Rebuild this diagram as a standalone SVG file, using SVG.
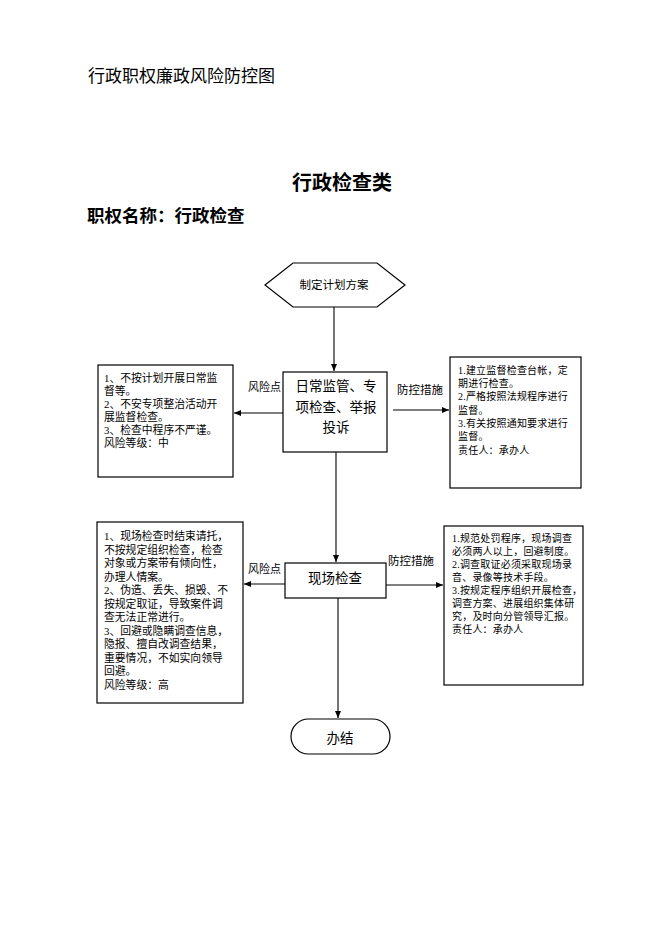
<svg xmlns="http://www.w3.org/2000/svg" width="662" height="936" viewBox="0 0 662 936">
<defs>
<marker id="ah" markerWidth="8" markerHeight="8" refX="7" refY="4" orient="auto" markerUnits="userSpaceOnUse">
<path d="M0,1 L7,4 L0,7 Z" fill="#000"/>
</marker>
<style>
text{font-family:"Liberation Serif","Noto Sans CJK SC",serif;fill:#000;dominant-baseline:central}
.box{fill:#fff;stroke:#000;stroke-width:1.2}
.ln{stroke:#000;stroke-width:1.1;fill:none}
.s11{font-size:10.8px}
.s10{font-size:10px;letter-spacing:0.2px}
.lbl{font-size:11px}
.ctr{text-anchor:middle}
</style>
</defs>
<rect width="662" height="936" fill="#fff"/>
<text x="88" y="76" style="font-size:17px">行政职权廉政风险防控图</text>
<text x="342" y="183" class="ctr" style="font-size:20px;font-weight:bold">行政检查类</text>
<text x="87" y="216" style="font-size:17.5px;font-weight:bold">职权名称：行政检查</text>

<g id="connectors">
<line class="ln" x1="334" y1="307" x2="334" y2="371" marker-end="url(#ah)"/>
<line class="ln" x1="283" y1="413" x2="234" y2="413" marker-end="url(#ah)"/>
<line class="ln" x1="393" y1="410" x2="449" y2="410" marker-end="url(#ah)"/>
<line class="ln" x1="336" y1="452" x2="336" y2="562" marker-end="url(#ah)"/>
<line class="ln" x1="285" y1="584" x2="244" y2="584" marker-end="url(#ah)"/>
<line class="ln" x1="386" y1="585" x2="443" y2="585" marker-end="url(#ah)"/>
<line class="ln" x1="338" y1="598" x2="338" y2="718" marker-end="url(#ah)"/>
<text x="248" y="387" class="lbl">风险点</text>
<text x="397" y="390" style="font-size:11.5px">防控措施</text>
<text x="248" y="569" class="lbl">风险点</text>
<text x="388" y="561" style="font-size:11.5px">防控措施</text>
</g>

<g id="start">
<polygon class="box" points="265,285 293,263 377,263 405,285 377,307 293,307"/>
<text x="334" y="285" class="ctr" style="font-size:11.5px">制定计划方案</text>
</g>

<g id="daily">
<rect class="box" x="283" y="372" width="104" height="80"/>
<text x="336" y="386" class="ctr" style="font-size:13.5px">日常监管、专</text>
<text x="336" y="407" class="ctr" style="font-size:13.5px">项检查、举报</text>
<text x="336" y="427" class="ctr" style="font-size:13.5px">投诉</text>
</g>

<g id="risk1">
<rect class="box" x="98" y="365" width="135" height="112"/>
<text x="104" y="378" class="s11">1、不按计划开展日常监</text>
<text x="104" y="391" class="s11">督等。</text>
<text x="104" y="404" class="s11">2、不安专项整治活动开</text>
<text x="104" y="417" class="s11">展监督检查。</text>
<text x="104" y="430" class="s11">3、检查中程序不严谨。</text>
<text x="104" y="443" class="s11">风险等级：中</text>
</g>

<g id="ctrl1">
<rect class="box" x="450" y="357" width="131" height="131"/>
<text x="458" y="370" class="s10">1.建立监督检查台帐，定</text>
<text x="458" y="383" class="s10">期进行检查。</text>
<text x="458" y="396.5" class="s10">2.严格按照法规程序进行</text>
<text x="458" y="410" class="s10">监督。</text>
<text x="458" y="423" class="s10">3.有关按照通知要求进行</text>
<text x="458" y="436.5" class="s10">监督。</text>
<text x="458" y="450" class="s10">责任人：承办人</text>
</g>

<g id="onsite">
<rect class="box" x="285" y="563" width="101" height="35"/>
<text x="335" y="578" class="ctr" style="font-size:13.5px">现场检查</text>
</g>

<g id="risk2">
<rect class="box" x="97" y="522" width="146" height="181"/>
<text x="104" y="536" class="s11">1、现场检查时结束请托，</text>
<text x="104" y="549.5" class="s11">不按规定组织检查，检查</text>
<text x="104" y="563" class="s11">对象或方案带有倾向性，</text>
<text x="104" y="576.5" class="s11">办理人情案。</text>
<text x="104" y="590" class="s11">2、伪造、丢失、损毁、不</text>
<text x="104" y="603.5" class="s11">按规定取证，导致案件调</text>
<text x="104" y="617" class="s11">查无法正常进行。</text>
<text x="104" y="630.5" class="s11">3、回避或隐瞒调查信息，</text>
<text x="104" y="644" class="s11">隐报、擅自改调查结果，</text>
<text x="104" y="657.5" class="s11">重要情况，不如实向领导</text>
<text x="104" y="671" class="s11">回避。</text>
<text x="104" y="684.5" class="s11">风险等级：高</text>
</g>

<g id="ctrl2">
<rect class="box" x="444" y="526" width="139" height="159"/>
<text x="452" y="538" class="s10">1.规范处罚程序，现场调查</text>
<text x="452" y="551" class="s10">必须两人以上，回避制度。</text>
<text x="452" y="564" class="s10">2.调查取证必须采取现场录</text>
<text x="452" y="577" class="s10">音、录像等技术手段。</text>
<text x="452" y="590" class="s10">3.按规定程序组织开展检查，</text>
<text x="452" y="603" class="s10">调查方案、进展组织集体研</text>
<text x="452" y="616" class="s10">究，及时向分管领导汇报。</text>
<text x="452" y="629" class="s10">责任人：承办人</text>
</g>

<g id="end">
<rect class="box" x="291" y="719" width="99" height="35" rx="17.5" ry="17.5"/>
<text x="340" y="738" class="ctr" style="font-size:13.5px">办结</text>
</g>
</svg>
